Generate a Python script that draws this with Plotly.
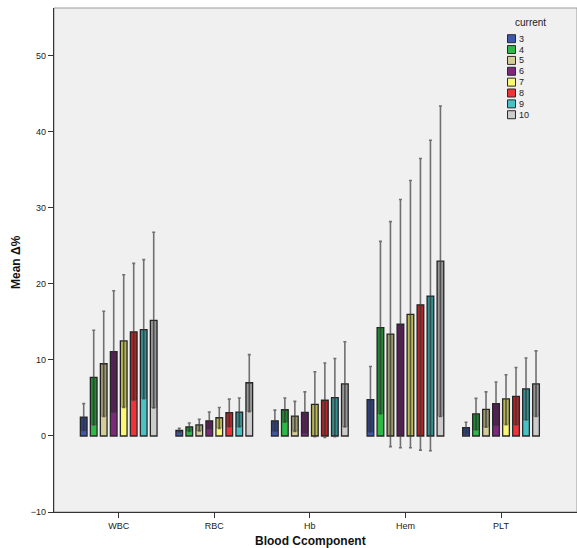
import plotly.graph_objects as go

categories = ["WBC", "RBC", "Hb", "Hem", "PLT"]
levels = ["3", "4", "5", "6", "7", "8", "9", "10"]
colors = ["#3E58AC", "#2EB848", "#D3CE97", "#7C287D", "#FBF873", "#EF3338", "#48C2C5", "#CCCCCC"]

# mean values per level (over categories)
m3 = [2.48, 0.75, 2.0, 4.78, 1.1]
m4 = [7.7, 1.2, 3.45, 14.25, 2.9]
m5 = [9.5, 1.45, 2.6, 13.4, 3.5]
m6 = [11.1, 2.0, 3.1, 14.7, 4.25]
m7 = [12.5, 2.4, 4.15, 16.0, 4.87]
m8 = [13.7, 3.07, 4.7, 17.25, 5.2]
m9 = [14.0, 3.15, 5.05, 18.4, 6.2]
m10 = [15.2, 7.0, 6.85, 23.0, 6.85]

# upper confidence bounds
u3 = [4.25, 1.0, 3.4, 9.15, 1.8]
u4 = [13.9, 1.7, 5.0, 25.6, 4.95]
u5 = [16.4, 2.2, 4.55, 28.2, 5.8]
u6 = [19.1, 3.15, 5.8, 31.1, 7.1]
u7 = [21.2, 3.75, 8.45, 33.6, 8.05]
u8 = [22.7, 4.85, 9.6, 36.5, 9.0]
u9 = [23.2, 5.0, 10.2, 38.9, 10.25]
u10 = [26.8, 10.7, 12.4, 43.4, 11.2]

# lower confidence bounds
l3 = [0.7, 0.5, 0.6, 0.5, 0.2]
l4 = [1.46, 0.6, 1.8, 2.9, 0.8]
l5 = [2.56, 0.65, 0.6, -1.4, 1.15]
l6 = [3.1, 0.9, 0.35, -1.55, 1.37]
l7 = [3.76, 1.0, -0.1, -1.55, 1.5]
l8 = [4.7, 1.2, -0.2, -1.86, 1.46]
l9 = [4.9, 1.2, -0.1, -1.95, 2.1]
l10 = [3.7, 3.2, 1.2, 2.56, 2.56]

yticks = [-10, 0, 10, 20, 30, 40, 50]

means = [m3, m4, m5, m6, m7, m8, m9, m10]
uppers = [u3, u4, u5, u6, u7, u8, u9, u10]
lowers = [l3, l4, l5, l6, l7, l8, l9, l10]

W, H = 577, 548
ML, MR, MT, MB = 54, 0, 8, 36


def px_x(x):
    return (x - ML) / (W - ML - MR)


def px_y(y):
    return (H - MB - y) / (H - MT - MB)


fig = go.Figure()
for k, lev in enumerate(levels):
    m, u, lo = means[k], uppers[k], lowers[k]
    fig.add_trace(go.Bar(
        x=categories, y=m, name=lev, offsetgroup=str(k),
        marker=dict(color=colors[k], line=dict(color="#2a2a2a", width=1.3)),
        error_y=dict(type="data", symmetric=False,
                     array=[a - b for a, b in zip(u, m)],
                     arrayminus=[a - b for a, b in zip(m, lo)],
                     color="rgba(70,70,70,0.75)", thickness=1.6, width=1.5),
        showlegend=False,
    ))
    base = [max(v, 0) for v in lo]
    fig.add_trace(go.Bar(
        x=categories, y=[a - b for a, b in zip(m, base)], base=base,
        offsetgroup=str(k), hoverinfo="skip",
        marker=dict(color="rgba(0,0,0,0.26)", line=dict(width=0)),
        showlegend=False,
    ))

shapes = [dict(type="rect", xref="paper", yref="paper", x0=0, x1=1, y0=0, y1=1,
               line=dict(color="#9a9a9a", width=1), layer="below")]
annotations = [
    dict(text="current", xref="paper", yref="paper", x=px_x(530), y=px_y(22),
         showarrow=False, font=dict(size=10, color="#222"), xanchor="center", yanchor="middle"),
    dict(text="<b>Blood Ccomponent</b>", xref="paper", yref="paper", x=px_x(310.5), y=px_y(541),
         showarrow=False, font=dict(size=12, color="#111"), xanchor="center", yanchor="middle"),
    dict(text="<b>Mean Δ%</b>", xref="paper", yref="paper", x=px_x(16), y=px_y(262),
         showarrow=False, font=dict(size=12, color="#111"), xanchor="center", yanchor="middle",
         textangle=-90),
]
for k, lev in enumerate(levels):
    cy = 38.7 + k * 10.86
    shapes.append(dict(type="rect", xref="paper", yref="paper",
                       x0=px_x(507.5), x1=px_x(515.5), y0=px_y(cy + 4), y1=px_y(cy - 4),
                       fillcolor=colors[k], line=dict(color="#2a2a2a", width=1)))
    annotations.append(dict(text=lev, xref="paper", yref="paper", x=px_x(517), y=px_y(cy),
                            showarrow=False, xanchor="left", yanchor="middle",
                            font=dict(size=9, color="#222")))

fig.update_layout(
    width=W, height=H,
    margin=dict(l=ML, r=MR, t=MT, b=MB, autoexpand=False),
    paper_bgcolor="white", plot_bgcolor="#F0F0F0",
    barmode="group", bargap=0.163, bargroupgap=0.33,
    font=dict(family="Liberation Sans, Arial, sans-serif", color="#222"),
    shapes=shapes, annotations=annotations,
    showlegend=False,
)
fig.update_xaxes(
    type="category", range=[-0.677, 4.795], automargin=False,
    showline=True, linecolor="#333", linewidth=1.2,
    ticks="outside", ticklen=5, tickcolor="#333", tickfont=dict(size=9, color="#222"),
    showgrid=False, zeroline=False,
)
fig.update_yaxes(
    range=[-10, 56.3], tickvals=yticks, automargin=False,
    showline=True, linecolor="#333", linewidth=1.2,
    ticks="outside", ticklen=5, tickcolor="#333", tickfont=dict(size=9, color="#222"),
    showgrid=False, zeroline=False,
)

fig.write_html("out.html", config={"displayModeBar": False},
               post_script="document.body.style.margin='0';document.body.style.overflow='hidden';")
